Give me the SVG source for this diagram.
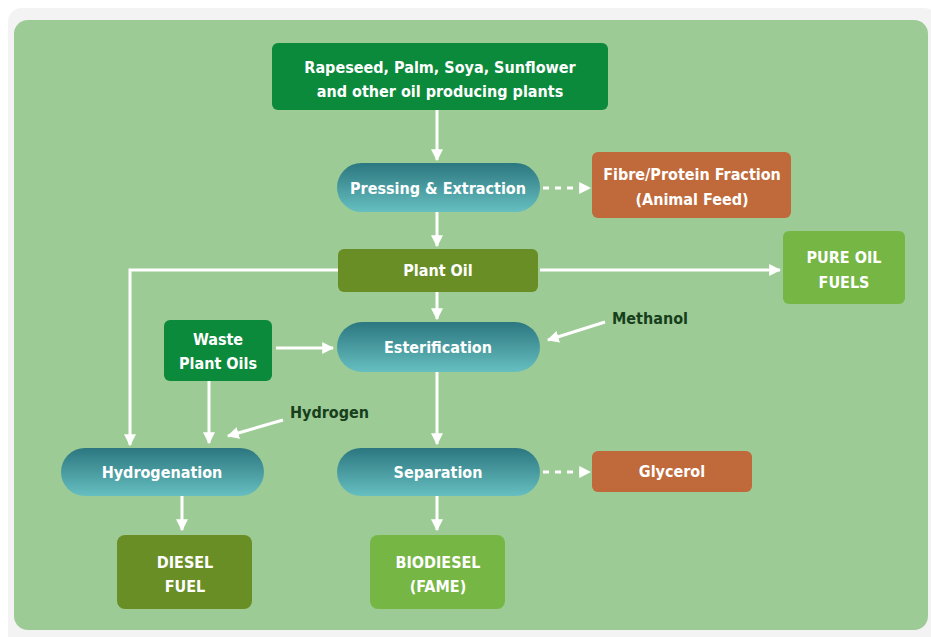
<svg xmlns="http://www.w3.org/2000/svg" width="931" height="637" viewBox="0 0 931 637">
<defs>
<linearGradient id="pill" x1="0" y1="0" x2="0" y2="1">
<stop offset="0" stop-color="#2c7780"/>
<stop offset="1" stop-color="#66bfc0"/>
</linearGradient>
<marker id="ah" viewBox="0 0 10 10" refX="9" refY="5" markerWidth="4" markerHeight="4" orient="auto" markerUnits="strokeWidth">
<path d="M0,0 L10,5 L0,10 z" fill="#ffffff"/>
</marker>
<style>
.t{font-family:"Liberation Sans Narrow","DejaVu Sans Condensed","Liberation Sans",sans-serif;font-weight:bold;font-size:16px;fill:#ffffff;text-anchor:middle}
.lab{font-family:"Liberation Sans Narrow","DejaVu Sans Condensed","Liberation Sans",sans-serif;font-weight:bold;font-size:16px;fill:#173f1c}
.dg{fill:#0b8a3c}
.ol{fill:#6a8e26}
.lg{fill:#76b644}
.or{fill:#c0693a}
.pl{fill:url(#pill)}
.c{stroke:#ffffff;stroke-width:3;fill:none;marker-end:url(#ah)}
.d{stroke:#ffffff;stroke-width:3;fill:none;stroke-dasharray:6 6;marker-end:url(#ah)}
</style>
</defs>
<rect x="0" y="0" width="931" height="637" fill="#ffffff"/>
<rect x="8" y="8" width="930" height="640" rx="14" fill="#f3f3f3"/>
<rect x="14" y="20" width="914" height="610" rx="14" fill="#9ccb95"/>

<g id="connectors">
<path class="c" d="M437,110 V160"/>
<path class="d" d="M543,188 H590"/>
<path class="c" d="M437,212 V246"/>
<path class="c" d="M338,270 H130 V445"/>
<path class="c" d="M540,270 H780"/>
<path class="c" d="M437,292 V319"/>
<path class="c" d="M276,348 H333"/>
<path class="c" d="M605,322 L548,340"/>
<path class="c" d="M437,372 V444"/>
<path class="c" d="M209,381 V443"/>
<path class="c" d="M283,420 L228,436"/>
<path class="d" d="M543,472 H590"/>
<path class="c" d="M182,496 V530"/>
<path class="c" d="M437,496 V530"/>
</g>

<g id="source">
<rect class="dg" x="272" y="43" width="336" height="67" rx="6"/>
<text class="t" x="440" y="73">Rapeseed, Palm, Soya, Sunflower</text>
<text class="t" x="440" y="97">and other oil producing plants</text>
</g>
<g id="pressing">
<rect class="pl" x="337" y="163" width="203" height="49" rx="24.5"/>
<text class="t" x="438" y="194">Pressing &amp; Extraction</text>
</g>
<g id="fibre">
<rect class="or" x="592" y="152" width="199" height="66" rx="6"/>
<text class="t" x="692" y="180">Fibre/Protein Fraction</text>
<text class="t" x="692" y="205">(Animal Feed)</text>
</g>
<g id="plantoil">
<rect class="ol" x="338" y="249" width="200" height="43" rx="6"/>
<text class="t" x="438" y="276">Plant Oil</text>
</g>
<g id="pureoil">
<rect class="lg" x="783" y="231" width="122" height="73" rx="6"/>
<text class="t" x="844" y="263">PURE OIL</text>
<text class="t" x="844" y="288">FUELS</text>
</g>
<g id="waste">
<rect class="dg" x="164" y="320" width="108" height="61" rx="6"/>
<text class="t" x="218" y="345">Waste</text>
<text class="t" x="218" y="369">Plant Oils</text>
</g>
<g id="esterification">
<rect class="pl" x="337" y="322" width="203" height="50" rx="25"/>
<text class="t" x="438" y="353">Esterification</text>
</g>
<g id="methanol">
<text class="lab" x="612" y="324">Methanol</text>
</g>
<g id="hydrogen">
<text class="lab" x="290" y="418">Hydrogen</text>
</g>
<g id="hydrogenation">
<rect class="pl" x="61" y="448" width="203" height="48" rx="24"/>
<text class="t" x="162" y="478">Hydrogenation</text>
</g>
<g id="separation">
<rect class="pl" x="337" y="448" width="203" height="48" rx="24"/>
<text class="t" x="438" y="478">Separation</text>
</g>
<g id="glycerol">
<rect class="or" x="592" y="451" width="160" height="41" rx="6"/>
<text class="t" x="672" y="477">Glycerol</text>
</g>
<g id="diesel">
<rect class="ol" x="117" y="535" width="135" height="74" rx="8"/>
<text class="t" x="185" y="568">DIESEL</text>
<text class="t" x="185" y="592">FUEL</text>
</g>
<g id="biodiesel">
<rect class="lg" x="370" y="535" width="135" height="74" rx="8"/>
<text class="t" x="438" y="568">BIODIESEL</text>
<text class="t" x="438" y="592">(FAME)</text>
</g>
</svg>
